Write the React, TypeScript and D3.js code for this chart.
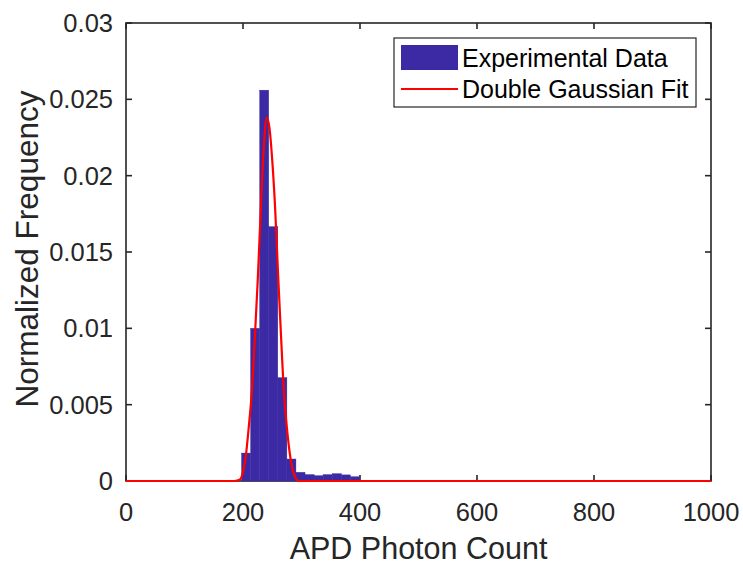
import React from "react";
import * as d3 from "d3";

// Histogram bins (APD photon count edges) and normalized frequencies
const binEdges = [197.5, 213, 228.5, 244, 259.5, 275, 290.5, 306, 321.5, 337, 352.5, 368, 383.5, 399];
const binValues = [0.00183, 0.01, 0.0256, 0.01666, 0.00677, 0.00144, 0.00057, 0.00042, 0.00035, 0.00042, 0.00048, 0.0004, 0.00028];

// Double Gaussian fit
const fitX = [0, 150, 185, 195, 200, 205, 210, 215, 220, 225, 230, 235, 240.5, 245, 250, 255, 260, 265, 270, 275, 280, 285, 290, 295, 320, 1000];
const fitY = [0, 0, 0, 0.0001, 0.0006, 0.0017, 0.0036, 0.0058, 0.0092, 0.013, 0.0174, 0.0215, 0.0238, 0.0232, 0.021, 0.0178, 0.0135, 0.0095, 0.0058, 0.0035, 0.0018, 0.0007, 0.0002, 0, 0, 0];

const xTicks = [0, 200, 400, 600, 800, 1000];
const xTickLabels = ["0", "200", "400", "600", "800", "1000"];
const yTicks = [0, 0.005, 0.01, 0.015, 0.02, 0.025, 0.03];
const yTickLabels = ["0", "0.005", "0.01", "0.015", "0.02", "0.025", "0.03"];
const legendLabels = ["Experimental Data", "Double Gaussian Fit"];
const xLabel = "APD Photon Count";
const yLabel = "Normalized Frequency";

const W = 743;
const H = 564;
const PL = 126, PR = 711, PT = 23, PB = 481;
const AX = "#262626";
const BAR = "#3b2aa3";
const FONT = "'Liberation Sans', Arial, Helvetica, sans-serif";

export default function App() {
  const x = d3.scaleLinear().domain([0, 1000]).range([PL, PR]);
  const y = d3.scaleLinear().domain([0, 0.03]).range([PB, PT]);
  const fitPts: [number, number][] = fitX.map((v, i) => [v, fitY[i]]);
  const line = d3
    .line<[number, number]>()
    .x((d) => x(d[0]))
    .y((d) => y(d[1]))
    .curve(d3.curveMonotoneX);
  const tickLen = 6;

  return (
    <svg
      width={W}
      height={H}
      style={{ position: "absolute", left: 0, top: 0, background: "#fff" }}
      fontFamily={FONT}
    >
      <rect x={0} y={0} width={W} height={H} fill="#fff" />
      {/* axes box */}
      <rect x={PL} y={PT} width={PR - PL} height={PB - PT} fill="none" stroke={AX} strokeWidth={1.6} />
      {xTicks.map((t) => (
        <g key={"xt" + t}>
          <line x1={x(t)} x2={x(t)} y1={PB} y2={PB - tickLen} stroke={AX} strokeWidth={1.6} />
          <line x1={x(t)} x2={x(t)} y1={PT} y2={PT + tickLen} stroke={AX} strokeWidth={1.6} />
        </g>
      ))}
      {yTicks.map((t) => (
        <g key={"yt" + t}>
          <line x1={PL} x2={PL + tickLen} y1={y(t)} y2={y(t)} stroke={AX} strokeWidth={1.6} />
          <line x1={PR} x2={PR - tickLen} y1={y(t)} y2={y(t)} stroke={AX} strokeWidth={1.6} />
        </g>
      ))}
      {/* histogram */}
      {binValues.map((v, i) => (
        <rect
          key={"b" + i}
          x={x(binEdges[i])}
          y={y(v)}
          width={x(binEdges[i + 1]) - x(binEdges[i])}
          height={y(0) - y(v)}
          fill={BAR}
          stroke={BAR}
          strokeWidth={0.4}
        />
      ))}
      {/* fit */}
      <path d={line(fitPts) || ""} fill="none" stroke="#ff0000" strokeWidth={2.2} />
      {/* tick labels */}
      {xTicks.map((t, i) => (
        <text key={"xl" + t} x={x(t)} y={521} textAnchor="middle" fontSize={25.5} fill={AX}>
          {xTickLabels[i]}
        </text>
      ))}
      {yTicks.map((t, i) => (
        <text key={"yl" + t} x={113} y={y(t) + 9} textAnchor="end" fontSize={25.5} fill={AX}>
          {yTickLabels[i]}
        </text>
      ))}
      {/* axis labels */}
      <text x={(PL + PR) / 2} y={559} textAnchor="middle" fontSize={30.5} fill={AX}>
        {xLabel}
      </text>
      <text
        transform={`translate(38, ${(PT + PB) / 2 - 3}) rotate(-90)`}
        textAnchor="middle"
        fontSize={31.5}
        fill={AX}
      >
        {yLabel}
      </text>
      {/* legend */}
      <rect x={394} y={38} width={302} height={69} fill="#fff" stroke={AX} strokeWidth={1.2} />
      <rect x={401} y={45} width={57} height={25} fill={BAR} />
      <line x1={401} x2={458} y1={89} y2={89} stroke="#ff0000" strokeWidth={2} />
      <text x={462} y={67} fontSize={25} fill="#000">
        {legendLabels[0]}
      </text>
      <text x={462} y={98} fontSize={25} fill="#000">
        {legendLabels[1]}
      </text>
    </svg>
  );
}
